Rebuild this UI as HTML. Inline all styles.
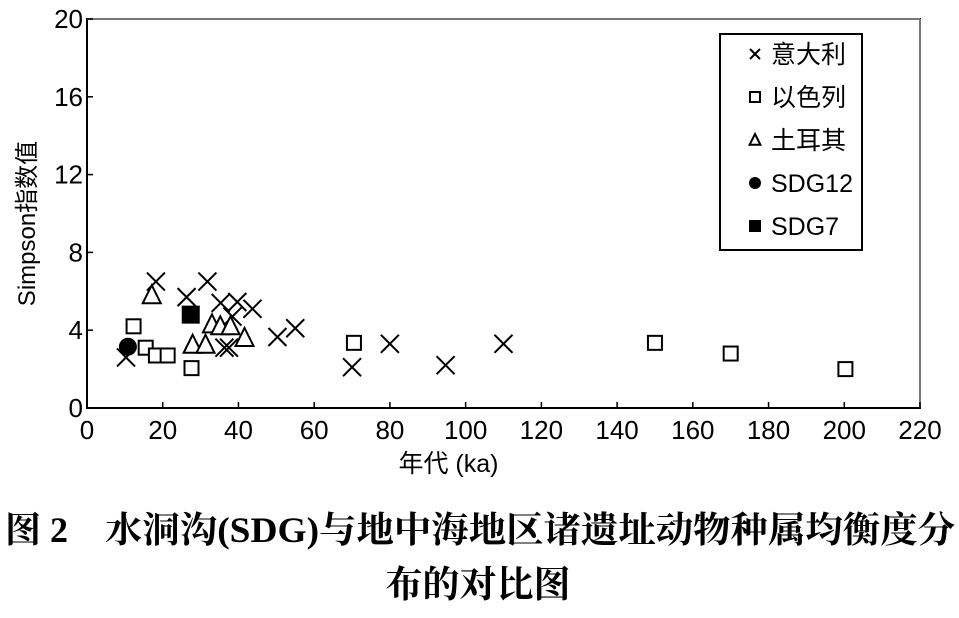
<!DOCTYPE html>
<html><head><meta charset="utf-8"><style>
body{margin:0;background:#fff;width:959px;height:618px;overflow:hidden;font-family:"Liberation Sans","Noto Sans CJK SC",sans-serif}
svg{position:absolute;left:0;top:0}
</style></head><body>
<svg id="chart" width="959" height="618" xmlns="http://www.w3.org/2000/svg"></svg>
<script>
const xTicks=[0,20,40,60,80,100,120,140,160,180,200,220];
const yTicks=[0,4,8,12,16,20];
const italyX=[18.2,31.8,26.3,35.3,39.7,43.7,38.4,36.3,37.5,50.3,55,10.3,70,80,94.7,110];
const italyY=[6.5,6.5,5.7,5.4,5.45,5.1,4.7,3.1,3.1,3.65,4.1,2.6,2.1,3.3,2.2,3.3];
const israelX=[12.3,15.5,18.2,21.3,27.6,70.5,150,170,200.3];
const israelY=[4.2,3.1,2.7,2.7,2.05,3.35,3.35,2.8,2.0];
const turkeyX=[17.1,27.9,31.3,33,35.2,37.9,41.6];
const turkeyY=[5.8,3.25,3.25,4.3,4.2,4.2,3.6];
const sdg12X=[10.8], sdg12Y=[3.15];
const sdg7X=[27.4], sdg7Y=[4.8];

const L=87,R=920,T=19,B=408;
const sx=v=>L+(v-0)/220*(R-L);
const sy=v=>B-(v-0)/20*(B-T);
const svg=document.getElementById('chart');
const NS='http://www.w3.org/2000/svg';
function mk(tag,attrs,parent){const e=document.createElementNS(NS,tag);for(const k in attrs)e.setAttribute(k,attrs[k]);(parent||svg).appendChild(e);return e;}

const frame=mk('rect',{x:L,y:T,width:R-L,height:B-T,fill:'none',stroke:'#000','stroke-width':2});


mk('line',{x1:L,y1:T,x2:R,y2:T,stroke:'#777','stroke-width':2});
mk('line',{x1:R,y1:T,x2:R,y2:B,stroke:'#777','stroke-width':2});

xTicks.forEach(v=>{
  mk('line',{x1:sx(v),y1:B,x2:sx(v),y2:B-6,stroke:'#000','stroke-width':1.5});
  const t=mk('text',{x:sx(v),y:B+31,'text-anchor':'middle','font-size':26});
  
  
  t.textContent=v;
});
yTicks.forEach(v=>{
  mk('line',{x1:L,y1:sy(v),x2:L+6,y2:sy(v),stroke:'#000','stroke-width':1.5});
  const t=mk('text',{x:L-4,y:sy(v)+9,'text-anchor':'end','font-size':26});
  
  
  t.textContent=v;
});
const xt=mk('text',{x:sx(110)-55,y:472,'text-anchor':'middle','font-size':25});


xt.textContent='年代 (ka)';
const yt=mk('text',{x:0,y:0,'text-anchor':'middle','font-size':24,transform:`translate(35,${(T+B)/2+10}) rotate(-90)`});


yt.textContent='Simpson指数值';

function cross(x,y,s,p){mk('path',{d:`M${x-s},${y-s}L${x+s},${y+s}M${x-s},${y+s}L${x+s},${y-s}`,stroke:'#000','stroke-width':2,fill:'none'},p);}
function square(x,y,s,fill,p){mk('rect',{x:x-s,y:y-s,width:2*s,height:2*s,fill:fill,stroke:'#000','stroke-width':2},p);}
function tri(x,y,s,p){mk('path',{d:`M${x},${y-s}L${x+s*0.9},${y+s*0.8}L${x-s*0.9},${y+s*0.8}Z`,fill:'#fff',stroke:'#000','stroke-width':2},p);}

const gI=mk('g',{});
italyX.forEach((v,i)=>cross(sx(v),sy(italyY[i]),9,gI));
const gS=mk('g',{});
israelX.forEach((v,i)=>square(sx(v),sy(israelY[i]),7,'#fff',gS));
const gT=mk('g',{});
turkeyX.forEach((v,i)=>tri(sx(v),sy(turkeyY[i]),10,gT));
const g12=mk('g',{});
sdg12X.forEach((v,i)=>mk('circle',{cx:sx(v),cy:sy(sdg12Y[i]),r:9,fill:'#000'},g12));
const g7=mk('g',{});
sdg7X.forEach((v,i)=>square(sx(v),sy(sdg7Y[i]),8,'#000',g7));

const lg=mk('g',{});
mk('rect',{x:720,y:34,width:142,height:216,fill:'#fff',stroke:'#000','stroke-width':2},lg);
const names=['意大利','以色列','土耳其','SDG12','SDG7'];
names.forEach((n,i)=>{
  const y=54+i*43;
  if(i==0)cross(755,y,5,lg);
  if(i==1)square(755,y,5,'#fff',lg);
  if(i==2)tri(755,y,6,lg);
  if(i==3)mk('circle',{cx:755,cy:y,r:6,fill:'#000'},lg);
  if(i==4)square(755,y,5,'#000',lg);
  const t=mk('text',{x:771,y:y+9,'font-size':25},lg);
  
  
  t.textContent=n;
});

const ff='"Liberation Serif","Noto Serif CJK SC",serif';
const c0=mk('text',{x:5,y:542,'font-size':36,'font-weight':'bold','font-family':ff});


c0.textContent='图 2';
const c1=mk('text',{x:105,y:542,'font-size':36,'font-weight':'bold','font-family':ff,textLength:850,lengthAdjust:'spacingAndGlyphs'});


c1.textContent='水洞沟(SDG)与地中海地区诸遗址动物种属均衡度分';
const c2=mk('text',{x:478,y:597,'text-anchor':'middle','font-size':37,'font-weight':'bold','font-family':ff});


c2.textContent='布的对比图';
</script>
</body></html>
